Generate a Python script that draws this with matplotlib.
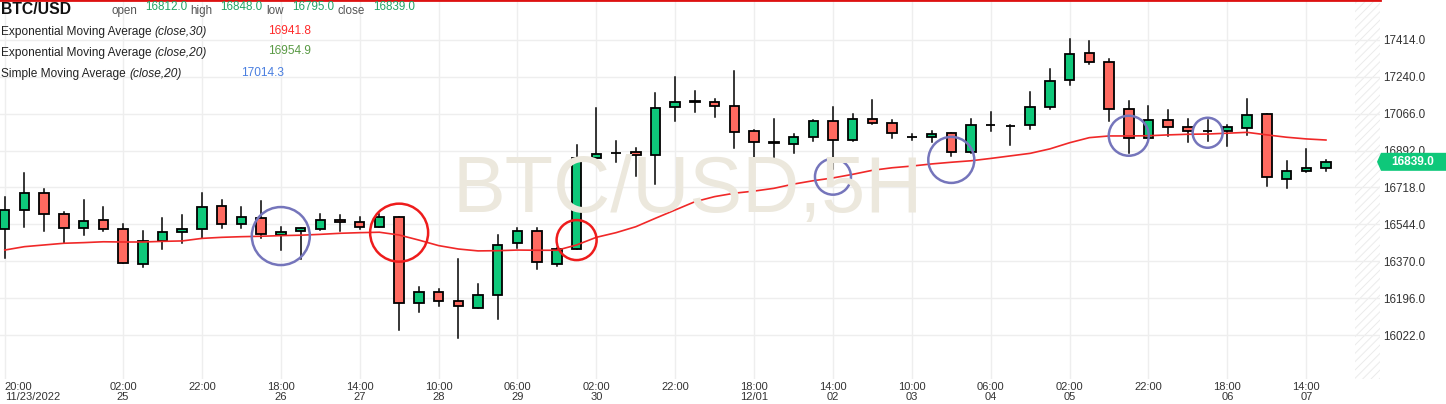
import matplotlib
matplotlib.use('Agg')
import matplotlib.pyplot as plt
from matplotlib.patches import Rectangle, Polygon
from matplotlib.transforms import IdentityTransform

plt.rcParams['font.family'] = ['Liberation Sans', 'DejaVu Sans']

# 5H candles, BTC/USD, starting 11/23/2022 20:00
opens = [16520, 16614, 16690, 16595, 16525, 16567, 16520, 16355, 16468, 16506,
         16520, 16633, 16548, 16572, 16492, 16511, 16520, 16567, 16553, 16534,
         16577, 16171, 16223, 16185, 16152, 16209, 16454, 16511, 16355, 16430,
         16855, 16879, 16883, 16873, 17096, 17122, 17123, 17101, 16986, 16932,
         16922, 16955, 17030, 16941, 17040, 17021, 16955, 16955, 16974, 16884,
         17011, 17010, 17011, 17096, 17223, 17351, 17308, 17087, 16950, 17035,
         17002, 16983, 16983, 16997, 17063, 16757, 16794, 16812]
highs = [16671, 16784, 16713, 16602, 16661, 16624, 16548, 16512, 16572, 16586,
         16690, 16657, 16628, 16652, 16534, 16529, 16595, 16586, 16581, 16591,
         16580, 16251, 16237, 16379, 16261, 16492, 16529, 16529, 16435, 16916,
         17095, 16935, 16902, 17162, 17239, 17174, 17134, 17267, 16988, 17040,
         16969, 17035, 17096, 17063, 17129, 17035, 16969, 16983, 16976, 17040,
         17073, 17014, 17167, 17275, 17417, 17407, 17322, 17124, 17101, 17082,
         17040, 17035, 17011, 17134, 17065, 16841, 16898, 16848]
lows = [16386, 16532, 16511, 16454, 16495, 16513, 16360, 16344, 16428, 16454,
        16482, 16529, 16529, 16482, 16421, 16383, 16517, 16515, 16520, 16534,
        16044, 16129, 16157, 16006, 16148, 16096, 16435, 16336, 16346, 16430,
        16831, 16836, 16773, 16733, 17033, 17075, 17052, 16906, 16863, 16858,
        16882, 16939, 16804, 16936, 17016, 16950, 16941, 16931, 16865, 16879,
        16983, 16917, 16992, 17087, 17200, 17299, 17030, 16879, 16950, 16959,
        16931, 16936, 16912, 16967, 16724, 16714, 16789, 16795]
closes = [16614, 16690, 16591, 16525, 16562, 16520, 16364, 16468, 16506, 16520,
          16628, 16544, 16577, 16501, 16506, 16525, 16567, 16553, 16534, 16581,
          16171, 16223, 16185, 16157, 16209, 16449, 16515, 16369, 16430, 16855,
          16878, 16882, 16873, 17091, 17123, 17124, 17101, 16981, 16931, 16929,
          16955, 17030, 16941, 17040, 17021, 16974, 16956, 16969, 16884, 17011,
          17012, 17008, 17096, 17219, 17346, 17308, 17087, 16950, 17035, 17002,
          16983, 16984, 17002, 17058, 16766, 16794, 16809, 16839]

# EMA(close,30)
ema30 = [16423, 16439, 16447, 16455, 16458, 16462, 16461, 16461, 16464, 16466,
         16478, 16483, 16486, 16488, 16491, 16493, 16497, 16502, 16505, 16507,
         16494, 16470, 16444, 16428, 16419, 16420, 16423, 16422, 16422, 16447,
         16483, 16505, 16533, 16573, 16612, 16651, 16675, 16691, 16701, 16714,
         16734, 16750, 16763, 16780, 16799, 16811, 16819, 16829, 16837, 16844,
         16855, 16867, 16879, 16900, 16929, 16953, 16961, 16961, 16962, 16966,
         16969, 16970, 16974, 16978, 16966, 16955, 16947, 16941.8]

# x ticks (candle index) and labels
tick_idx = [0, 6, 10, 14, 18, 22, 26, 30, 34, 38, 42, 46, 50, 54, 58, 62, 66]
tick_labels = ['20:00\n11/23/2022', '02:00\n25', '22:00', '18:00\n26', '14:00\n27',
               '10:00\n28', '06:00\n29', '02:00\n30', '22:00', '18:00\n12/01',
               '14:00\n02', '10:00\n03', '06:00\n04', '02:00\n05', '22:00',
               '18:00\n06', '14:00\n07']
price_ticks = [16022, 16196, 16370, 16544, 16718, 16892, 17066, 17240, 17414]

# marked spots (candle index, price, radius px, colour)
circ_idx = [14, 20, 29, 42, 48, 57, 61]
circ_price = [16489, 16505, 16470, 16769, 16848, 16962, 16976]
circ_r = [29, 29, 20, 18, 23, 20, 15]
circ_col = ['#7575bb', '#ee1c1c', '#ee1c1c', '#7575bb', '#7575bb', '#7575bb', '#7575bb']

legend_vals = {'open': 16812.0, 'high': 16848.0, 'low': 16795.0, 'close': 16839.0}
ema30_last, ema20_last, sma20_last = 16941.8, 16954.9, 17014.3

GREEN = '#0ec87a'
RED = '#ff6a60'
W, H = 1446, 404

fig = plt.figure(figsize=(W / 100, H / 100), dpi=100)
fig.patch.set_facecolor('white')
ax = fig.add_axes([0, 1 - 379 / H, 1380 / W, 379 / H])
ax.set_xlim(-0.24, -0.24 + 1380 / 19.72)
ax.set_ylim(15815, 17602)

for s in ['left', 'right', 'bottom']:
    ax.spines[s].set_visible(False)
ax.spines['top'].set_color('#dd1111')
ax.spines['top'].set_linewidth(2)

ax.set_xticks(tick_idx)
ax.set_xticklabels(tick_labels, fontsize=8, color='#333333', linespacing=1.0)
first = ax.get_xticklabels()[0]
first.set_ha('left')
first.set_multialignment('left')
ax.tick_params(axis='x', length=0, pad=2)

ax.yaxis.tick_right()
ax.set_yticks(price_ticks)
ax.set_yticklabels([f'{v:.1f}' for v in price_ticks], fontsize=8.4, color='#333333')
ax.tick_params(axis='y', length=0, pad=2)
ax.grid(color='#eeeeee', linewidth=1, zorder=0)
ax.set_axisbelow(True)

plt.rcParams['hatch.linewidth'] = 0.7
ax.add_patch(Rectangle((0.982, 0), 0.02, 1, transform=ax.transAxes, facecolor='none',
                       edgecolor='#ebebeb', hatch='////', linewidth=0, zorder=0.5))

# watermark
fig.text(687.5 / W, 1 - 212 / H, 'BTC/USD,5H', fontsize=57, color='#ece8dd',
         ha='center', va='baseline', zorder=0.6)

# candles
for i in range(len(closes)):
    o, h, l, c = opens[i], highs[i], lows[i], closes[i]
    col = GREEN if c >= o else RED
    ax.plot([i, i], [l, h], color='black', linewidth=1.1, zorder=2)
    ax.add_patch(Rectangle((i - 0.24, min(o, c)), 0.48, max(abs(c - o), 0.5),
                           facecolor=col, edgecolor='black', linewidth=1.3, zorder=3))

ax.plot(range(len(ema30)), ema30, color='#f02828', linewidth=1.2, zorder=4)

for x, y, r, col in zip(circ_idx, circ_price, circ_r, circ_col):
    ax.scatter([x], [y], s=(2 * r * 0.72) ** 2, facecolors='none', edgecolors=col,
               linewidths=1.8, zorder=5)

# header texts
renderer = fig.canvas.get_renderer()

def ftext(x, y, s, **kw):
    return fig.text(x / W, 1 - y / H, s, va='baseline', **kw)

def study(y, name, args, val, val_x, val_y, col):
    t = ftext(1, y, name + ' ', fontsize=8.6, color='#222222')
    x_end = t.get_window_extent(renderer).x1
    ftext(x_end, y, args, fontsize=8.6, color='#222222', style='italic')
    ftext(val_x, val_y, f'{val:.1f}', fontsize=8.6, color=col)

ftext(1, 14, 'BTC/USD', fontsize=11.3, fontweight='bold', color='#111111')
lab_x = [111, 190, 266, 338]
val_x = [145, 220, 292, 373]
for (k, v), lx, vx in zip(legend_vals.items(), lab_x, val_x):
    ftext(lx, 14, k, fontsize=8.4, color='#555555')
    ftext(vx, 9.5, f'{v:.1f}', fontsize=8.4, color='#22a466')

study(35, 'Exponential Moving Average', '(close,30)', ema30_last, 268, 33.5, '#ff2a2a')
study(56, 'Exponential Moving Average', '(close,20)', ema20_last, 268, 54.5, '#5a9a45')
study(77.5, 'Simple Moving Average', '(close,20)', sma20_last, 241, 76, '#4a7fe0')

# last price tag
ty = ax.transData.transform((0, closes[-1]))[1]
tag = Polygon([(1377, ty), (1381, ty + 9), (1446, ty + 9), (1446, ty - 9), (1381, ty - 9)],
              closed=True, facecolor=GREEN, edgecolor='none', transform=IdentityTransform())
fig.add_artist(tag)
fig.text(1413 / W, ty / H, f'{closes[-1]:.1f}', fontsize=8.6, fontweight='bold',
         color='white', ha='center', va='center')

fig.savefig('out.png', dpi=100, facecolor='white')
